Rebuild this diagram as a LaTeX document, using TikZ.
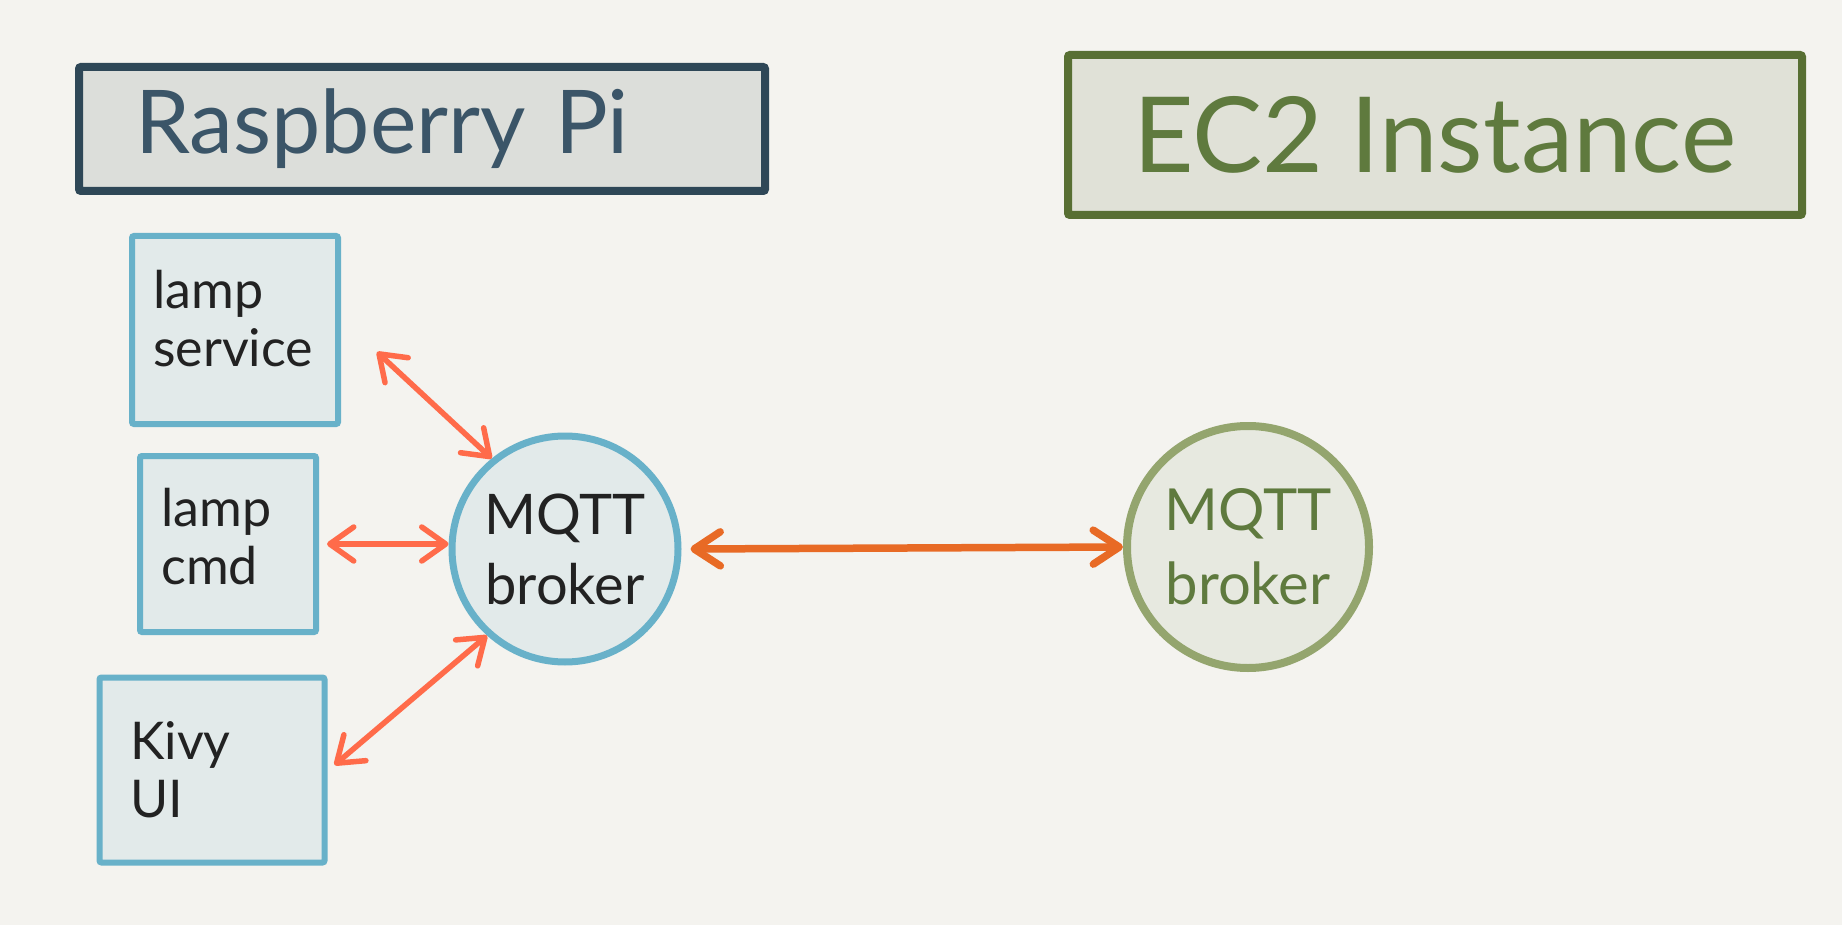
\documentclass[tikz,border=0pt]{standalone}
\usepackage{fontspec}
\setmainfont{Lato}
\usetikzlibrary{arrows.meta}
\definecolor{paper}{HTML}{F4F3EF}
\definecolor{pidark}{HTML}{2E4757}
\definecolor{pifill}{HTML}{DCDEDA}
\definecolor{pitext}{HTML}{3B5568}
\definecolor{ecdark}{HTML}{586F33}
\definecolor{ecfill}{HTML}{E0E1D7}
\definecolor{ectext}{HTML}{5F7A3E}
\definecolor{pblue}{HTML}{68B1C9}
\definecolor{pbluefill}{HTML}{E2EAEA}
\definecolor{sage}{HTML}{94A56E}
\definecolor{sagefill}{HTML}{E7E9E0}
\definecolor{ink}{HTML}{222222}
\definecolor{coral}{HTML}{FF6B4A}
\definecolor{rust}{HTML}{E86A25}
\begin{document}
\begin{tikzpicture}[x=1pt, y=-1pt,
	pibox/.style={draw=pidark, fill=pifill, line width=8pt, rounded corners=2pt, minimum height=124pt, text width=574pt, inner xsep=56pt, align=left, text=pitext, font=\fontsize{88}{96}\selectfont},
	ecbox/.style={draw=ecdark, fill=ecfill, line width=8pt, rounded corners=2pt, minimum width=734pt, minimum height=160pt, text=ectext, font=\fontsize{105}{110}\selectfont},
	svcbox/.style={draw=pblue, fill=pbluefill, line width=6pt, rounded corners=2pt, inner sep=0pt},
	svctext/.style={anchor=north west, inner sep=0pt, align=left, text=ink, font=\fontsize{52}{58}\selectfont},
	broker/.style={circle, draw=pblue, fill=pbluefill, line width=7pt, minimum size=226pt, inner sep=0pt, align=center, text=ink, font=\fontsize{56}{70}\selectfont},
	ecbroker/.style={circle, draw=sage, fill=sagefill, line width=8pt, minimum size=242pt, inner sep=0pt, align=center, text=ectext, font=\fontsize{58}{74}\selectfont},
	duplex/.style={{Straight Barb[length=24pt, width=34pt, round]}-{Straight Barb[length=24pt, width=34pt, round]}, draw=coral, line width=5.5pt, line cap=round},
	trunk/.style={{Straight Barb[length=26pt, width=34pt, round]}-{Straight Barb[length=26pt, width=34pt, round]}, draw=rust, line width=7.5pt, line cap=round}
	]
	\useasboundingbox[fill=paper] (0, 0) rectangle (1842, 925);

	% titles
	\draw node[pibox] at (422, 129) (pi) {Raspberry Pi};
	\draw node[ecbox] at (1435, 135) (ec2) {EC2 Instance};

	% pi services
	\draw node[svcbox, minimum width=206pt, minimum height=188pt] at (235, 330) (lampsvc) {};
	\draw node[svctext] at (153, 270) (lampsvctext) {lamp\\service};
	\draw node[svcbox, minimum width=176pt, minimum height=176pt] at (228, 544) (lampcmd) {};
	\draw node[svctext] at (161, 488) (lampcmdtext) {lamp\\cmd};
	\draw node[svcbox, minimum width=225pt, minimum height=185pt] at (212, 770) (kivy) {};
	\draw node[svctext] at (130, 721) (kivytext) {Kivy\\UI};

	% brokers
	\draw node[broker] at (565, 549) (mqtt) {MQTT\\broker};
	\draw node[ecbroker] at (1248, 547) (ec2mqtt) {MQTT\\broker};

	\draw [duplex] ([xshift=36pt, yshift=-22pt]lampsvc.east) -- (mqtt.129);
	\draw [duplex] ([xshift=8pt]lampcmd.east) -- (mqtt.west |- lampcmd.east);
	\draw [duplex] ([xshift=7pt, yshift=5pt]kivy.east) -- (mqtt.228);
	\draw [trunk] ([xshift=9pt]mqtt.east) -- (ec2mqtt.west);
\end{tikzpicture}
\end{document}
